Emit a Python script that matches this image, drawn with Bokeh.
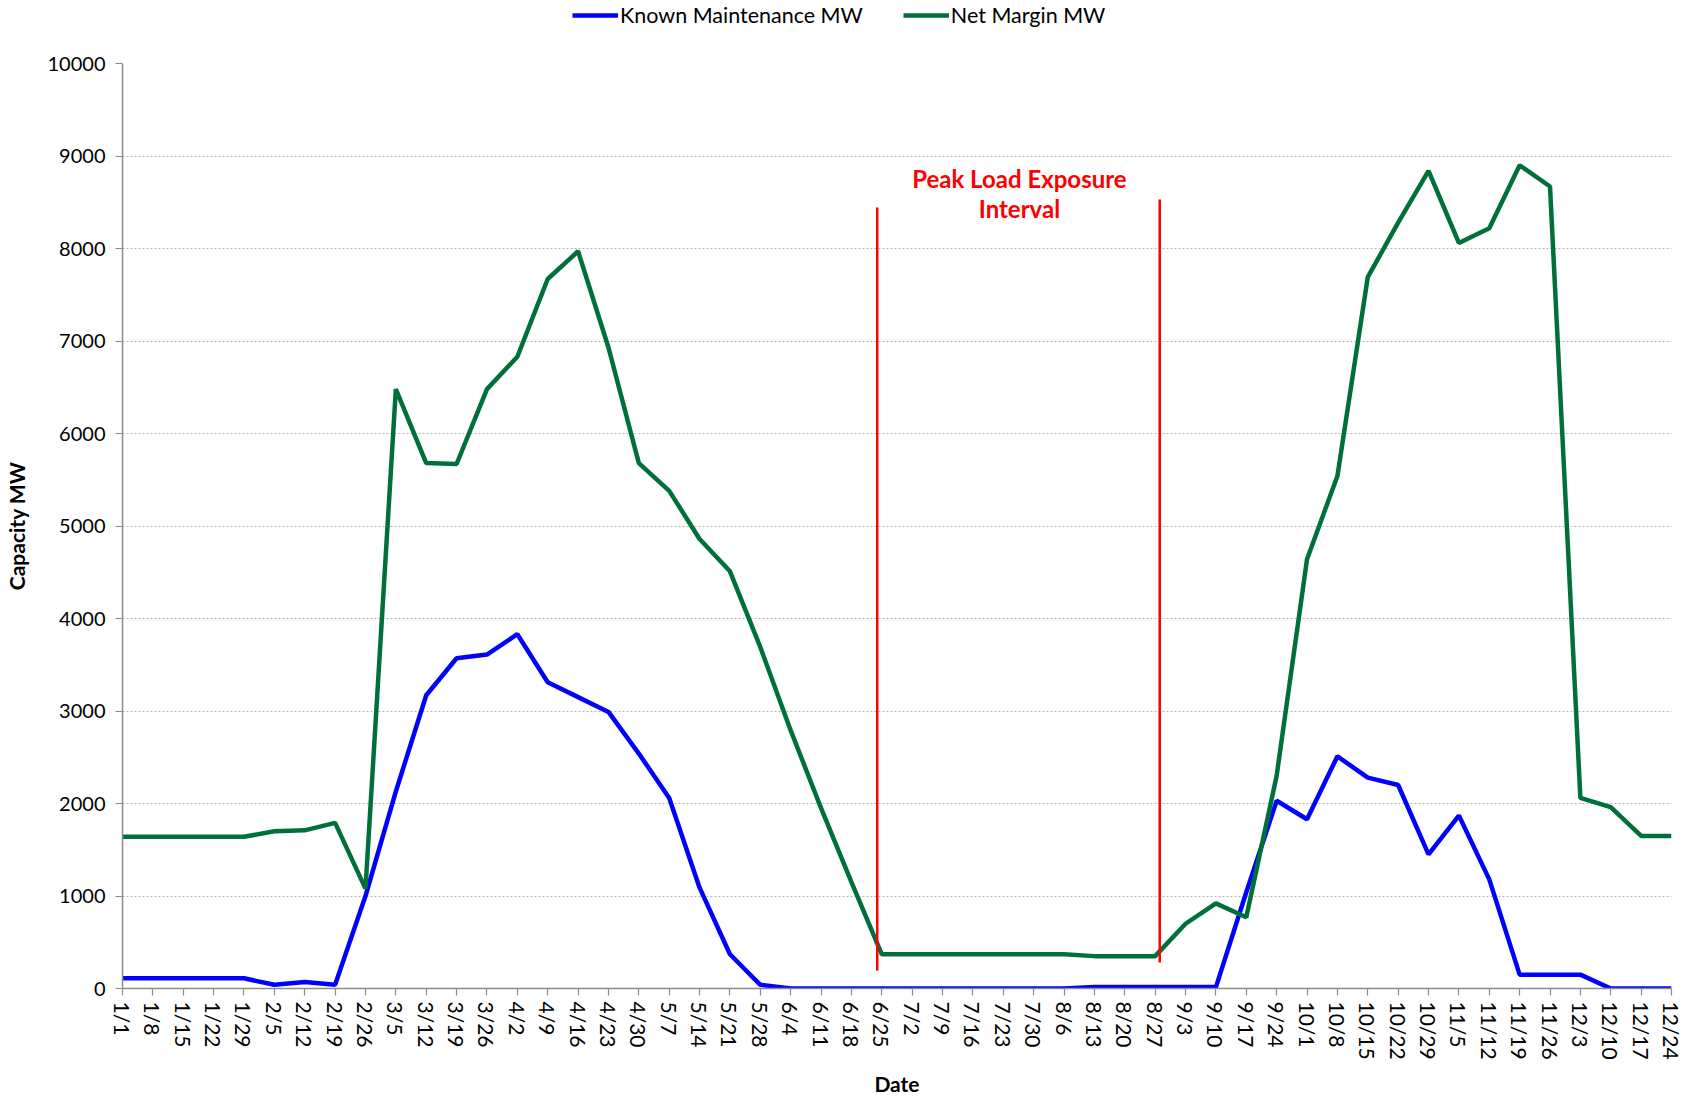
import math
from bokeh.plotting import figure
from bokeh.layouts import column
from bokeh.models import (ColumnDataSource, Legend, LegendItem, FixedTicker, Range1d)
from bokeh.core.properties import value
from bokeh.embed import file_html
from bokeh.resources import INLINE

dates = ["1/1", "1/8", "1/15", "1/22", "1/29", "2/5", "2/12", "2/19", "2/26",
         "3/5", "3/12", "3/19", "3/26", "4/2", "4/9", "4/16", "4/23", "4/30",
         "5/7", "5/14", "5/21", "5/28", "6/4", "6/11", "6/18", "6/25", "7/2",
         "7/9", "7/16", "7/23", "7/30", "8/6", "8/13", "8/20", "8/27", "9/3",
         "9/10", "9/17", "9/24", "10/1", "10/8", "10/15", "10/22", "10/29",
         "11/5", "11/12", "11/19", "11/26", "12/3", "12/10", "12/17", "12/24"]

known_maintenance = [110, 110, 110, 110, 110, 40, 70, 40, 1000,
                     2130, 3170, 3570, 3610, 3830, 3310, 3150, 2990, 2540,
                     2060, 1090, 370, 40, 0, 0, 0, 0, 0,
                     0, 0, 0, 0, 0, 15, 15, 15, 15,
                     15, 1040, 2030, 1830, 2510, 2280, 2200, 1450,
                     1870, 1180, 150, 150, 150, 0, 0, 0]

net_margin = [1640, 1640, 1640, 1640, 1640, 1700, 1710, 1790, 1080,
              6480, 5680, 5670, 6480, 6830, 7670, 7970, 6930, 5680,
              5380, 4860, 4510, 3690, 2790, 1950, 1150, 370, 370,
              370, 370, 370, 370, 370, 350, 350, 350, 700,
              920, 770, 2300, 4640, 5540, 7690, 8280, 8840,
              8060, 8220, 8900, 8670, 2060, 1960, 1650, 1650]

series_names = ["Known Maintenance MW", "Net Margin MW"]
series_colors = ["#0000FF", "#00703A"]

y_ticks = list(range(0, 10001, 1000))

# Peak load exposure interval markers (category-index positions, MW extents)
interval_x = [24.85, 34.15]
interval_y0 = [195, 281]
interval_y1 = [8443, 8530]
annot_lines = ["Peak Load Exposure", "Interval"]
annot_x = [29.53, 29.53]
annot_y = [8757, 8432]

FONT = "Lato"
idx = list(range(len(dates)))

W, H = 1684, 1098
LEG_H = 40
BL, BR, BT, BB = 122, 13, 63 - LEG_H, 110

# ---- legend strip (separate figure so the legend is not clipped) ----
lf = figure(width=W, height=LEG_H, output_backend="svg", toolbar_location=None,
            x_range=Range1d(0, 1), y_range=Range1d(0, 1),
            min_border_left=BL, min_border_right=BR, min_border_top=0,
            min_border_bottom=0, outline_line_color=None)
lf.axis.visible = False
lf.grid.visible = False
leg_items = []
for name, col in zip(series_names, series_colors):
    # placeholder renderer (kept outside the visible range) that carries the legend style
    r = lf.line(x=[-5, -4], y=[-5, -5], line_color=col, line_width=4.5)
    leg_items.append(LegendItem(label=name, renderers=[r]))
legend = Legend(items=leg_items, orientation="horizontal", location=(450, 12),
                label_text_font=FONT, label_text_font_size="21.5px",
                label_text_color="#000000",
                glyph_width=46, glyph_height=20, label_standoff=2, spacing=40,
                padding=0, margin=0, border_line_color=None,
                background_fill_alpha=0)
lf.add_layout(legend)

# ---- main chart ----
p = figure(width=W, height=H - LEG_H, output_backend="svg", toolbar_location=None,
           x_range=Range1d(0, len(dates) - 1), y_range=Range1d(0, 10000),
           min_border_left=BL, min_border_right=BR, min_border_top=BT,
           min_border_bottom=BB)
p.outline_line_color = None
p.background_fill_color = "white"

src = ColumnDataSource(dict(x=idx, km=known_maintenance, nm=net_margin))
p.line("x", "km", source=src, line_color=series_colors[0], line_width=4.5)
p.line("x", "nm", source=src, line_color=series_colors[1], line_width=4.5)

p.segment(x0=interval_x, y0=interval_y0, x1=interval_x, y1=interval_y1,
          line_color="#FF0000", line_width=2.5)
p.text(x=annot_x, y=annot_y, text=annot_lines, text_color="#FF0000",
       text_font=value(FONT), text_font_style="bold", text_font_size="24px",
       text_align="center", text_baseline="middle")

p.xaxis.ticker = FixedTicker(ticks=idx)
p.xaxis.major_label_overrides = {i: d for i, d in enumerate(dates)}
p.xaxis.major_label_orientation = -math.pi / 2
p.yaxis.ticker = FixedTicker(ticks=y_ticks)
for ax in (p.xaxis[0], p.yaxis[0]):
    ax.axis_line_color = "#8C8C8C"
    ax.axis_line_width = 1.5
    ax.major_tick_line_color = "#8C8C8C"
    ax.major_tick_line_width = 1.2
    ax.major_tick_in = 0
    ax.major_tick_out = 7
    ax.minor_tick_line_color = None
    ax.major_label_text_font = FONT
    ax.major_label_text_color = "#000000"
    ax.axis_label_text_font = FONT
    ax.axis_label_text_font_size = "21px"
    ax.axis_label_text_font_style = "bold"
    ax.axis_label_text_color = "#000000"
p.xaxis.major_label_text_font_size = "21px"
p.yaxis.major_label_text_font_size = "20px"
p.xaxis.axis_label = "Date"
p.yaxis.axis_label = "Capacity MW"
p.xaxis.major_label_standoff = 6
p.yaxis.major_label_standoff = 10
p.xaxis.axis_label_standoff = 8
p.yaxis.axis_label_standoff = 16

p.xgrid.grid_line_color = None
p.ygrid.grid_line_color = "#B4B4B4"
p.ygrid.grid_line_dash = "2 2"
p.ygrid.grid_line_width = 1

layout = column(lf, p, spacing=0)
open("out.html", "w").write(file_html(layout, INLINE))
